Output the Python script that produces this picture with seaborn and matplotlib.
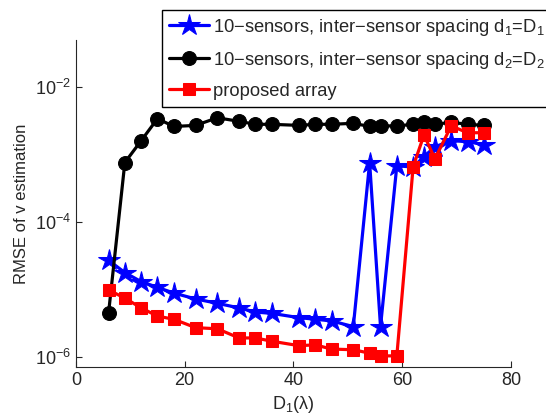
import numpy as np
import pandas as pd
import matplotlib
matplotlib.use('Agg')
import matplotlib.pyplot as plt
import seaborn as sns

# D1 values (in wavelengths)
d1 = [6, 9, 12, 15, 18, 22, 26, 30, 33, 36, 41, 44, 47, 51, 54, 56, 59, 62, 64, 66, 69, 72, 75]

rmse_d1 = [2.7e-5, 1.77e-5, 1.3e-5, 1.07e-5, 8.8e-6, 7.2e-6, 6.2e-6, 5.3e-6, 4.6e-6, 4.4e-6,
           3.8e-6, 3.6e-6, 3.4e-6, 2.8e-6, 7.6e-4, 2.8e-6, 6.8e-4, 6.5e-4, 9.3e-4, 1.3e-3,
           1.6e-3, 1.55e-3, 1.4e-3]
rmse_d2 = [4.4e-6, 7.6e-4, 1.6e-3, 3.4e-3, 2.6e-3, 2.7e-3, 3.5e-3, 3.1e-3, 2.8e-3, 2.8e-3,
           2.7e-3, 2.8e-3, 2.8e-3, 2.9e-3, 2.6e-3, 2.65e-3, 2.65e-3, 2.8e-3, 3.0e-3, 2.8e-3,
           3.0e-3, 2.8e-3, 2.7e-3]
rmse_prop = [9.8e-6, 7.4e-6, 5.3e-6, 4.0e-6, 3.6e-6, 2.7e-6, 2.6e-6, 1.9e-6, 1.9e-6, 1.7e-6,
             1.46e-6, 1.5e-6, 1.3e-6, 1.27e-6, 1.13e-6, 1.03e-6, 1.03e-6, 6.6e-4, 1.95e-3, 8.6e-4,
             2.65e-3, 2.1e-3, 2.1e-3]

labels = ['10\u2212sensors, inter\u2212sensor spacing d$_1$=D$_1$',
          '10\u2212sensors, inter\u2212sensor spacing d$_2$=D$_2$',
          'proposed array']

sns.set_style('ticks')
plt.rcParams['font.family'] = ['Liberation Sans', 'DejaVu Sans']
plt.rcParams['mathtext.fontset'] = 'custom'
plt.rcParams['mathtext.rm'] = 'Liberation Sans'
plt.rcParams['mathtext.it'] = 'Liberation Sans'

fig = plt.figure(figsize=(5.46, 4.15), dpi=100)
ax = fig.add_axes([0.139, 0.116, 0.797, 0.788])

sns.lineplot(x=d1, y=rmse_d1, ax=ax, color='#0000ff', marker='*', markersize=16,
             markeredgecolor='#0000ff', linewidth=2.3, label=labels[0])
sns.lineplot(x=d1, y=rmse_d2, ax=ax, color='black', marker='o', markersize=10,
             markeredgecolor='black', linewidth=2.3, label=labels[1])
sns.lineplot(x=d1, y=rmse_prop, ax=ax, color='#ff0000', marker='s', markersize=9,
             markeredgecolor='#ff0000', linewidth=2.3, label=labels[2])

ax.set_yscale('log')
ax.set_xlim(0, 80)
ax.set_ylim(10 ** -6.15, 10 ** -1.3)
ax.set_xticks([0, 20, 40, 60, 80])
ax.set_yticks([1e-6, 1e-4, 1e-2])
ax.yaxis.set_minor_locator(matplotlib.ticker.NullLocator())
ax.tick_params(direction='in', labelsize=13, length=4)
sns.despine(ax=ax)

ax.set_xlabel('D$_1$(\u03bb)', fontsize=13)
ax.set_ylabel('RMSE of v estimation', fontsize=12)

leg = ax.legend(loc='upper left', bbox_to_anchor=(0.197, 1.092), borderaxespad=0,
                fontsize=13.2, frameon=True, fancybox=False, edgecolor='black', framealpha=1,
                handlelength=2.2, labelspacing=0.65, borderpad=0.38, handletextpad=0.2)
leg.get_frame().set_linewidth(1.0)

fig.savefig('out.png', dpi=100)
